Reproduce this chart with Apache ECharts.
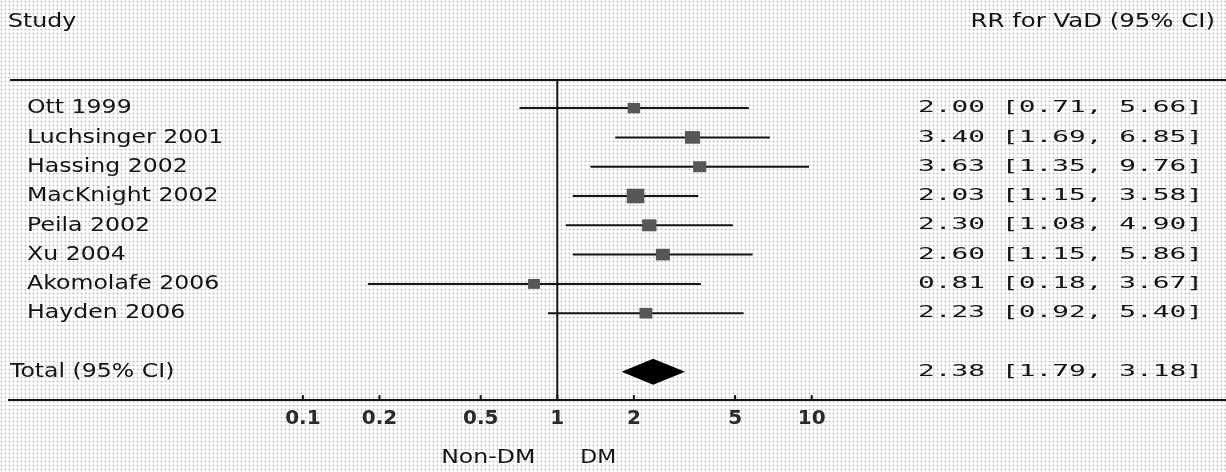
<!DOCTYPE html>
<html>
<head>
<meta charset="utf-8">
<script src="https://cdn.jsdelivr.net/npm/echarts@6/dist/echarts.min.js"></script>
<style>
html,body{margin:0;padding:0;background:#fff;}
#chart{width:1226px;height:472px;}
</style>
</head>
<body>
<div id="chart"></div>
<script>
// ---- data ----
const studies = ['Ott 1999','Luchsinger 2001','Hassing 2002','MacKnight 2002','Peila 2002','Xu 2004','Akomolafe 2006','Hayden 2006'];
const rr      = [2.00, 3.40, 3.63, 2.03, 2.30, 2.60, 0.81, 2.23];
const ciLow   = [0.71, 1.69, 1.35, 1.15, 1.08, 1.15, 0.18, 0.92];
const ciHigh  = [5.66, 6.85, 9.76, 3.58, 4.90, 5.86, 3.67, 5.40];
const weights = [9.9, 14.6, 11.0, 19.6, 13.1, 12.5, 9.0, 10.5];
const totalLabel = 'Total (95% CI)';
const totalRR = [2.38];
const totalLow = [1.79];
const totalHigh = [3.18];
const tickValues = [0.1, 0.2, 0.5, 1, 2, 5, 10];
const tickLabels = ['0.1', '0.2', '0.5', '1', '2', '5', '10'];
const headerLeft = 'Study';
const headerRight = 'RR for VaD (95% CI)';
const favoursLeft = 'Non-DM';
const favoursRight = 'DM';

// ---- layout (rows on the y axis) ----
const TOTAL_ROW = 9;
const HEADER_ROW = -2.93;
const TOP_RULE_ROW = -0.956;
const AXIS_ROW = 9.966;
const TICK_LABEL_ROW = 10.61;
const FAVOURS_ROW = 11.95;
const SANS = '20px "DejaVu Sans", sans-serif';
const SANS_BOLD = 'bold 20px "DejaVu Sans", sans-serif';
const MONO = '16px "DejaVu Sans Mono", monospace';
const INK = '#141414';

// dotted background
const tile = document.createElement('canvas');
tile.width = 4; tile.height = 4;
const tctx = tile.getContext('2d');
tctx.fillStyle = '#ffffff'; tctx.fillRect(0,0,4,4);
tctx.fillStyle = '#e2e2e2'; tctx.fillRect(0,1,3,1); tctx.fillRect(1,0,1,3);
tctx.fillStyle = '#bdbdbd'; tctx.fillRect(1,1,1,1);
document.getElementById('chart').style.backgroundImage = 'url(' + tile.toDataURL() + ')';

const fmt = v => v.toFixed(2);
const L = v => Math.log10(v);

const chart = echarts.init(document.getElementById('chart'), null, {renderer:'canvas'});

function sansText(x, y, text, align, sx) {
  return {type:'text', x:x, y:y, scaleX:sx, style:{text:text, x:0, y:0, font:SANS, fill:INK, align:align, verticalAlign:'middle'}};
}
function monoText(x, y, text) {
  return {type:'text', x:x, y:y, scaleX:1.74, style:{text:text, x:0, y:0, font:MONO, fill:INK, align:'right', verticalAlign:'middle'}};
}

const option = {
  backgroundColor: 'transparent',
  animation: false,
  grid: {left:0, right:0, top:0, bottom:0},
  xAxis: {type:'value', min:-2.1906, max:2.6286, show:false},
  yAxis: {type:'value', min:-3.69, max:12.42, inverse:true, show:false},
  series: [
    {
      // frame: rules, reference line, headers, favours labels
      type:'custom', coordinateSystem:'cartesian2d', silent:true,
      data:[[0, 0]],
      renderItem: function(params, api) {
        const W = api.getWidth();
        const top = api.coord([0, TOP_RULE_ROW])[1];
        const axisY = api.coord([0, AXIS_ROW])[1];
        const one = api.coord([L(1), 0])[0];
        const hy = api.coord([0, HEADER_ROW])[1];
        const fy = api.coord([0, FAVOURS_ROW])[1];
        return {type:'group', children:[
          {type:'line', shape:{x1:10, y1:top, x2:W, y2:top}, style:{stroke:INK, lineWidth:2}},
          {type:'line', shape:{x1:8, y1:axisY, x2:W, y2:axisY}, style:{stroke:INK, lineWidth:2}},
          {type:'line', shape:{x1:one, y1:top, x2:one, y2:axisY}, style:{stroke:INK, lineWidth:2}},
          sansText(8, hy, headerLeft, 'left', 1.18),
          sansText(1215, hy, headerRight, 'right', 1.22),
          sansText(one - 22, fy, favoursLeft, 'right', 1.18),
          sansText(one + 23, fy, favoursRight, 'left', 1.1)
        ]};
      }
    },
    {
      // axis ticks and labels
      type:'custom', coordinateSystem:'cartesian2d', silent:true,
      data: tickValues.map((v, i) => [L(v), AXIS_ROW, i]),
      renderItem: function(params, api) {
        const p = api.coord([api.value(0), api.value(1)]);
        const ly = api.coord([0, TICK_LABEL_ROW])[1];
        return {type:'group', children:[
          {type:'line', shape:{x1:p[0], y1:p[1], x2:p[0], y2:p[1]-5}, style:{stroke:INK, lineWidth:2}},
          {type:'text', x:p[0], y:ly, style:{text:tickLabels[api.value(2)], x:0, y:0, font:SANS_BOLD, fill:'#2a2a2a', align:'center', verticalAlign:'middle'}}
        ]};
      }
    },
    {
      // individual studies
      type:'custom', coordinateSystem:'cartesian2d', silent:true,
      data: studies.map((s, i) => [L(rr[i]), i, L(ciLow[i]), L(ciHigh[i]), weights[i]]),
      renderItem: function(params, api) {
        const row = api.value(1);
        const c = api.coord([api.value(0), row]);
        const lo = api.coord([api.value(2), row]);
        const hi = api.coord([api.value(3), row]);
        const side = Math.sqrt(api.value(4)) * 3.3;
        const i = params.dataIndex;
        return {type:'group', children:[
          {type:'line', shape:{x1:lo[0], y1:lo[1], x2:hi[0], y2:hi[1]}, style:{stroke:INK, lineWidth:2}},
          {type:'rect', shape:{x:c[0]-side*0.6, y:c[1]-side/2, width:side*1.2, height:side}, style:{fill:'#575757'}},
          sansText(27, c[1], studies[i], 'left', 1.18),
          monoText(1203, c[1], fmt(rr[i]) + ' [' + fmt(ciLow[i]) + ', ' + fmt(ciHigh[i]) + ']')
        ]};
      }
    },
    {
      // pooled estimate
      type:'custom', coordinateSystem:'cartesian2d', silent:true,
      data: totalRR.map((v, i) => [L(v), TOTAL_ROW, L(totalLow[i]), L(totalHigh[i])]),
      renderItem: function(params, api) {
        const row = api.value(1);
        const c = api.coord([api.value(0), row]);
        const lo = api.coord([api.value(2), row]);
        const hi = api.coord([api.value(3), row]);
        const h = 13;
        const i = params.dataIndex;
        return {type:'group', children:[
          {type:'polygon', shape:{points:[[lo[0], c[1]], [c[0], c[1]-h], [hi[0], c[1]], [c[0], c[1]+h]]}, style:{fill:'#000'}},
          sansText(10, c[1], totalLabel, 'left', 1.18),
          monoText(1203, c[1], fmt(totalRR[i]) + ' [' + fmt(totalLow[i]) + ', ' + fmt(totalHigh[i]) + ']')
        ]};
      }
    }
  ]
};
chart.setOption(option);
</script>
</body>
</html>
